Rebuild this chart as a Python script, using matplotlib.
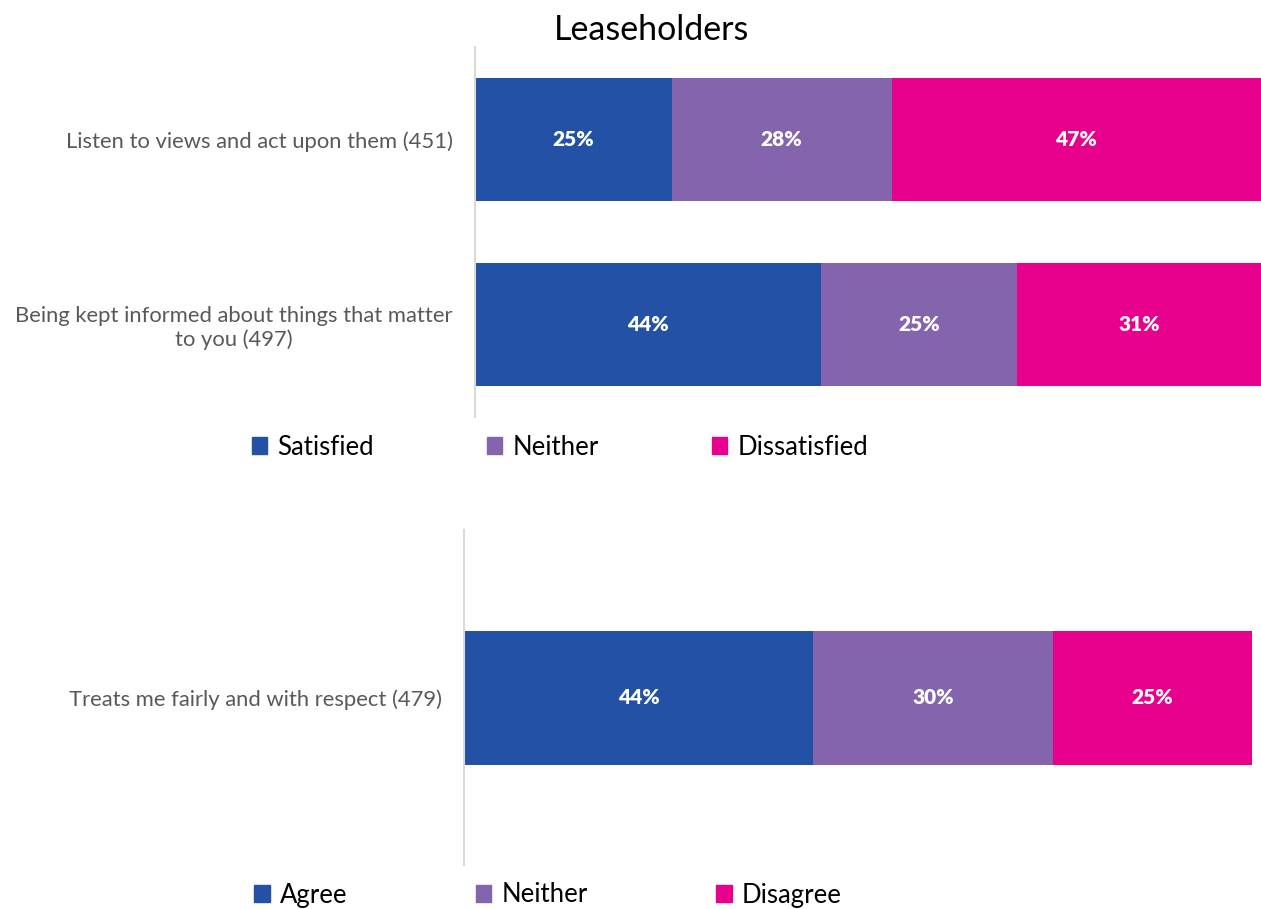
import matplotlib.pyplot as plt
from matplotlib.patches import Patch

plt.rcParams['font.family'] = ['Lato', 'DejaVu Sans']

BLUE = "#2251A5"
PURPLE = "#8464AC"
PINK = "#E6008C"

# top chart: satisfaction
top_cats = ["Listen to views and act upon them (451)",
            "Being kept informed about things that matter\nto you (497)"]
top_satisfied = [25, 44]
top_neither = [28, 25]
top_dissatisfied = [47, 31]
top_legend = ["Satisfied", "Neither", "Dissatisfied"]

# bottom chart: agreement
bot_cats = ["Treats me fairly and with respect (479)"]
bot_agree = [44.3]
bot_neither = [30.4]
bot_disagree = [25.3]
bot_legend = ["Agree", "Neither", "Disagree"]

W, H = 1261, 909
fig = plt.figure(figsize=(W / 100, H / 100), dpi=100)


def draw(ax, cats, series, height):
    ypos = list(range(len(cats)))
    left = [0] * len(cats)
    for vals, col in series:
        bars = ax.barh(ypos, vals, height, left=left, color=col, edgecolor="none")
        for b, v in zip(bars, vals):
            ax.text(b.get_x() + b.get_width() / 2, b.get_y() + b.get_height() / 2,
                    f"{round(v)}%", ha="center", va="center", color="white",
                    fontsize=15, fontweight="heavy")
        left = [l + v for l, v in zip(left, vals)]
    ax.set_xlim(0, 100)
    ax.set_ylim(len(cats) - 0.5, -0.5)
    ax.set_yticks(ypos)
    ax.set_yticklabels(cats, fontsize=15.8, color="#595959")
    ax.tick_params(axis="y", length=0, pad=16)
    ax.set_xticks([])
    for s in ["top", "right", "bottom"]:
        ax.spines[s].set_visible(False)
    ax.spines["left"].set_color("#D9D9D9")
    ax.spines["left"].set_linewidth(1.5)


ax1 = fig.add_axes([475 / W, 1 - 417 / H, (1261 - 475) / W, 370 / H])
draw(ax1, top_cats, [(top_satisfied, BLUE), (top_neither, PURPLE),
                     (top_dissatisfied, PINK)], 0.665)
for t in ax1.get_yticklabels():
    t.set_multialignment("center")

ax2 = fig.add_axes([464 / W, 1 - 865 / H, (1252 - 464) / W, 335 / H])
draw(ax2, bot_cats, [(bot_agree, BLUE), (bot_neither, PURPLE),
                     (bot_disagree, PINK)], 0.4)

fig.text(652 / W, 1 - 30 / H, "Leaseholders", ha="center", va="center", fontsize=24.5)

cols = [BLUE, PURPLE, PINK]
fig.legend([Patch(color=c) for c in cols], top_legend, loc="center",
           bbox_to_anchor=(560 / W, 1 - 447 / H), ncol=3, frameon=False,
           fontsize=18.5, handlelength=0.6, handleheight=0.6, handletextpad=0.4,
           columnspacing=4.4)
fig.legend([Patch(color=c) for c in cols], bot_legend, loc="center",
           bbox_to_anchor=(548 / W, 1 - 895 / H), ncol=3, frameon=False,
           fontsize=18.5, handlelength=0.6, handleheight=0.6, handletextpad=0.4,
           columnspacing=5.0)

fig.savefig("out.png", dpi=100)
